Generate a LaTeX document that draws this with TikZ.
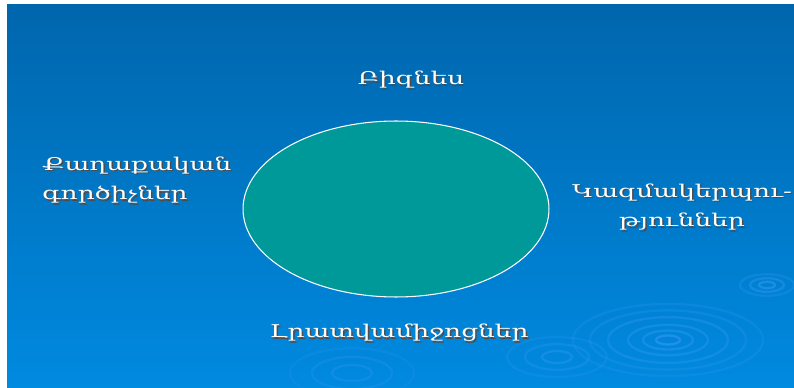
\documentclass[tikz,border=0pt]{standalone}
\usepackage{fontspec}
\newfontfamily\armfont[FakeStretch=1.5]{DejaVu Serif}
\usetikzlibrary{shapes.geometric}
\definecolor{bgtop}{RGB}{0,102,173}
\definecolor{bgmid}{RGB}{0,110,188}
\definecolor{bgbot}{RGB}{0,138,224}
\definecolor{ovalfill}{RGB}{0,153,153}
\definecolor{ripple}{RGB}{45,150,240}

\begin{document}
\begin{tikzpicture}[x=0.02cm,y=-0.02cm,
   lbl/.style={text=white,inner sep=0pt,font=\armfont\fontsize{10}{17}\selectfont},
   shd/.style={lbl,text=black!70},
   ring/.style={draw=ripple,line width=1.3pt}]
\useasboundingbox (0,0) rectangle (794,388);
\fill[white] (0,0) rectangle (794,388);
\shade[top color=bgtop,middle color=bgmid,bottom color=bgbot] (7,5) rectangle (794,388);
% ripples
\foreach \r/\o in {12/0.7,25/0.5,40/0.45,60/0.4,78/0.3,95/0.25}
  \draw[ring,opacity=\o] (668,340) ellipse ({\r} and {0.38*\r});
\foreach \r/\o in {8/0.6,17/0.45,27/0.3}
  \draw[ring,opacity=\o] (767,285) ellipse ({\r} and {0.4*\r});
\foreach \r/\o in {15/0.45,32/0.35,50/0.25}
  \draw[ring,opacity=\o] (557,357) ellipse ({\r} and {0.4*\r});
\foreach \r/\o in {20/0.35,40/0.3,62/0.2}
  \draw[ring,opacity=\o] (352,373) ellipse ({\r} and {0.4*\r});
% the oval
\node[ellipse,draw=white,line width=0.6pt,fill=ovalfill,
      minimum width=6.12cm,minimum height=3.52cm,inner sep=0pt] (oval) at (396,209) {};
% labels
\node[shd] (biz-s) at (412.5,81.5) {Բիզնես};
\node[lbl] (biz) at (411,80) {Բիզնես};
\node[shd,anchor=west,align=left] (pol-s) at (43.5,181.5) {Քաղաքական\\գործիչներ};
\node[lbl,anchor=west,align=left] (pol) at (42,180) {Քաղաքական\\գործիչներ};
\node[shd,align=center] (org-s) at (683.5,208.5) {Կազմակերպու-\\թյուններ};
\node[lbl,align=center] (org) at (682,207) {Կազմակերպու-\\թյուններ};
\node[shd] (media-s) at (400.5,334.5) {Լրատվամիջոցներ};
\node[lbl] (media) at (399,333) {Լրատվամիջոցներ};
\end{tikzpicture}
\end{document}
